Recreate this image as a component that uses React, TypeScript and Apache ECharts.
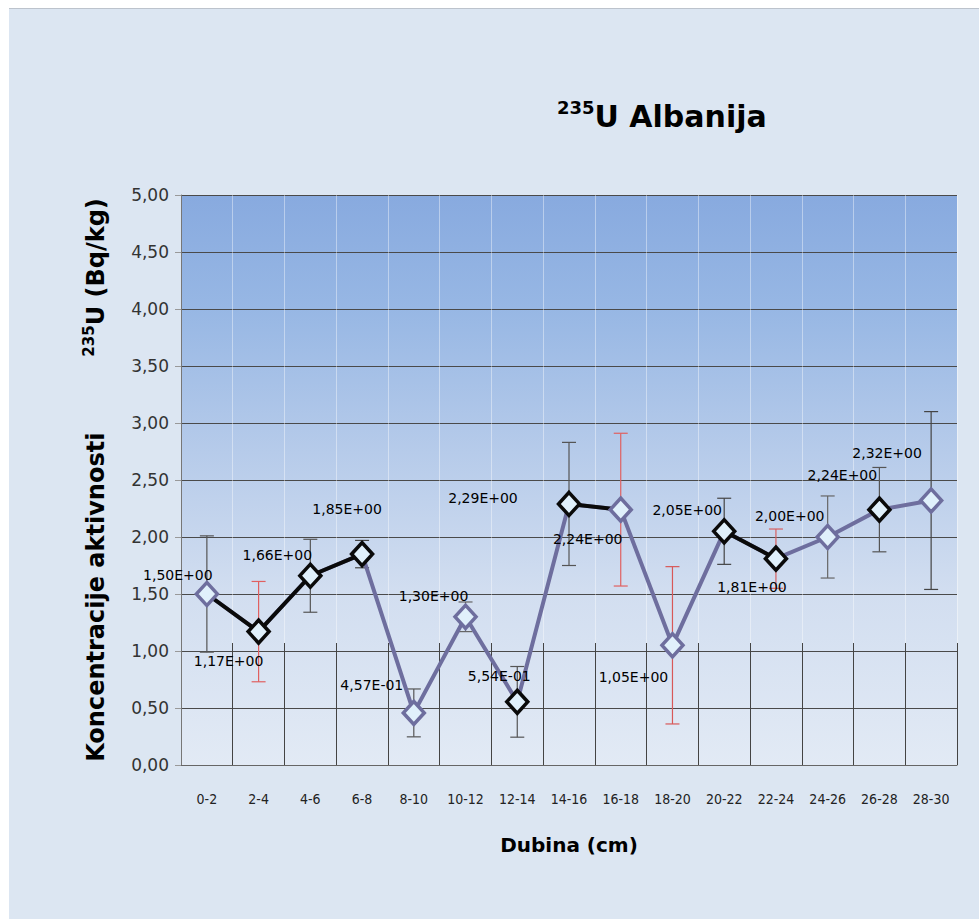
import React, { useEffect, useRef } from "react";
import * as echarts from "echarts";

const categories = ["0-2", "2-4", "4-6", "6-8", "8-10", "10-12", "12-14", "14-16", "16-18", "18-20", "20-22", "22-24", "24-26", "26-28", "28-30"];
const values = [1.5, 1.17, 1.66, 1.85, 0.457, 1.3, 0.554, 2.29, 2.24, 1.05, 2.05, 1.81, 2.0, 2.24, 2.32];
const errors = [0.51, 0.44, 0.32, 0.12, 0.21, 0.13, 0.31, 0.54, 0.67, 0.69, 0.29, 0.26, 0.36, 0.37, 0.78];
const yMin = 0;
const yMax = 5;
const yStep = 0.5;

// styling helpers (not data)
const darkSegment = [true, true, true, false, false, false, false, true, false, false, true, false, false, false];
const darkMarker = [false, true, true, true, false, false, true, true, false, false, true, true, false, true, false];
const errColors = ["#555", "#e06060", "#555", "#444", "#555", "#666", "#555", "#555", "#e06060", "#d85858", "#444", "#d86060", "#666", "#555", "#444"];
const labelOffsets: [number, number][] = [
  [-29, -19], [-30, 29], [-33, -21], [-15, -45], [-42, -28], [-32, -21], [-18, -26], [-86, -6],
  [-33, 29], [-39, 32], [-37, -21], [-24, 28], [-38, -21], [-37, -35], [-44, -48],
];

const PURPLE = "#6e6e9e";
const DARK = "#0a0a0a";
const FONT = "'DejaVu Sans', Verdana, sans-serif";
const NARROW = "'Liberation Sans Narrow', 'DejaVu Sans Condensed', 'Arial Narrow', sans-serif";

function fmtSci(v: number): string {
  const [m, e] = v.toExponential(2).split("e");
  const ex = parseInt(e, 10);
  const sign = ex < 0 ? "-" : "+";
  const abs = Math.abs(ex).toString().padStart(2, "0");
  return `${m.replace(".", ",")}E${sign}${abs}`;
}

export default function App() {
  const ref = useRef<HTMLDivElement>(null);
  useEffect(() => {
    document.body.style.margin = "0";
    if (!ref.current) return;
    const chart = echarts.init(ref.current, null, { renderer: "svg" });

    const darkLineData = values.map((v, i) => {
      const prev = i > 0 && darkSegment[i - 1];
      const next = i < darkSegment.length && darkSegment[i];
      return prev || next ? v : null;
    });

    const errData = values.map((v, i) => [i, v - errors[i], v + errors[i]]);

    const markerData = values.map((v, i) => ({
      value: v,
      itemStyle: { borderColor: darkMarker[i] ? DARK : PURPLE },
      label: { offset: labelOffsets[i] },
    }));

    const option: any = {
      animation: false,
      backgroundColor: "#dce6f2",
      title: {
        text: "{s|235}{t|U Albanija}",
        left: 543,
        top: 84,
        textStyle: {
          rich: {
            s: { fontSize: 18, fontWeight: "bold", fontFamily: FONT, color: "#000", verticalAlign: "top", lineHeight: 36 },
            t: { fontSize: 30, fontWeight: "bold", fontFamily: FONT, color: "#000", lineHeight: 36 },
          },
        },
      },
      grid: [
        {
          left: 172,
          top: 186,
          right: 22,
          bottom: 154,
          show: true,
          borderWidth: 0,
          backgroundColor: new echarts.graphic.LinearGradient(0, 0, 0, 1, [
            { offset: 0, color: "#88aadf" },
            { offset: 0.2, color: "#97b7e4" },
            { offset: 0.45, color: "#b6cbea" },
            { offset: 0.7, color: "#d2def0" },
            { offset: 1, color: "#e2eaf5" },
          ]),
        },
        { left: 172, top: 634, right: 22, bottom: 154 },
      ],
      xAxis: [
        {
          type: "category",
          data: categories,
          gridIndex: 0,
          boundaryGap: true,
          axisLine: { lineStyle: { color: "#666", width: 1 } },
          axisTick: { show: false },
          axisLabel: { margin: 27, fontSize: 14, fontFamily: NARROW, color: "#222" },
          splitLine: { show: true, lineStyle: { color: "rgba(255,255,255,0.4)", width: 1 } },
          name: "Dubina (cm)",
          nameLocation: "middle",
          nameGap: 70,
          nameTextStyle: { fontSize: 20, fontWeight: "bold", fontFamily: FONT, color: "#000" },
        },
        {
          type: "category",
          data: categories,
          gridIndex: 1,
          boundaryGap: true,
          axisLine: { show: false },
          axisTick: { show: false },
          axisLabel: { show: false },
          splitLine: { show: true, lineStyle: { color: "#444", width: 1 } },
        },
      ],
      yAxis: [
        {
          type: "value",
          gridIndex: 0,
          min: yMin,
          max: yMax,
          interval: yStep,
          axisLine: { show: true, lineStyle: { color: "#777" } },
          axisTick: { show: true, length: 6, lineStyle: { color: "#999" } },
          axisLabel: {
            margin: 12,
            fontSize: 17,
            fontFamily: FONT,
            color: "#333",
            formatter: (v: number) => v.toFixed(2).replace(".", ","),
          },
          splitLine: { show: true, lineStyle: { color: "#4a4a4a", width: 1 } },
          name: "{b|Koncentracije aktivnosti}{g| }{s|235}{b|U (Bq/kg)}",
          nameLocation: "middle",
          nameRotate: 90,
          nameGap: 70,
          nameTextStyle: {
            rich: {
              b: { fontSize: 24, fontWeight: "bold", fontFamily: FONT, color: "#000", lineHeight: 30 },
              s: { fontSize: 15, fontWeight: "bold", fontFamily: FONT, color: "#000", verticalAlign: "top", lineHeight: 30 },
              g: { width: 76, fontSize: 10 },
            },
          },
        },
        { type: "value", gridIndex: 1, show: false, min: 0, max: 1 },
      ],
      series: [
        {
          type: "custom",
          xAxisIndex: 0,
          yAxisIndex: 0,
          z: 2,
          data: errData,
          renderItem: (params: any, api: any) => {
            const i = api.value(0);
            const top = api.coord([i, api.value(2)]);
            const bot = api.coord([i, api.value(1)]);
            const c = errColors[params.dataIndex];
            const w = 7;
            const style = { stroke: c, lineWidth: 1.2 };
            return {
              type: "group",
              children: [
                { type: "line", shape: { x1: top[0], y1: top[1], x2: bot[0], y2: bot[1] }, style },
                { type: "line", shape: { x1: top[0] - w, y1: top[1], x2: top[0] + w, y2: top[1] }, style },
                { type: "line", shape: { x1: bot[0] - w, y1: bot[1], x2: bot[0] + w, y2: bot[1] }, style },
              ],
            };
          },
        },
        {
          type: "line",
          data: values,
          z: 3,
          symbol: "none",
          lineStyle: { color: PURPLE, width: 4 },
        },
        {
          type: "line",
          data: darkLineData,
          z: 4,
          symbol: "none",
          connectNulls: false,
          lineStyle: { color: DARK, width: 4 },
        },
        {
          type: "scatter",
          data: markerData,
          z: 5,
          symbol: "diamond",
          symbolSize: [21, 23],
          itemStyle: { color: "#e0f0fb", borderWidth: 3.5, opacity: 1 },
          label: {
            show: true,
            position: "inside",
            fontSize: 14,
            fontFamily: FONT,
            color: "#000",
            formatter: (p: any) => fmtSci(p.value),
          },
        },
      ],
    };
    chart.setOption(option);
    return () => chart.dispose();
  }, []);

  return (
    <div style={{ width: 979, height: 919, background: "#fff", paddingTop: 8, paddingLeft: 9, boxSizing: "border-box" }}>
      <div ref={ref} style={{ width: 970, height: 910, borderTop: "1px solid #bcc3cc" }} />
    </div>
  );
}
